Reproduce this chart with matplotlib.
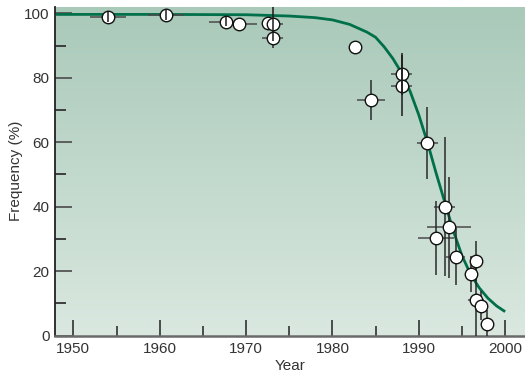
import numpy as np
import matplotlib
matplotlib.use("Agg")
from matplotlib import pyplot as plt
from matplotlib.colors import LinearSegmentedColormap

# observed frequencies with error bars
years = [1954.0, 1960.7, 1967.7, 1969.2, 1972.5, 1973.1, 1973.1, 1982.65, 1984.45,
         1988.0, 1988.0, 1991.0, 1992.0, 1993.0, 1993.5, 1994.3, 1996.1, 1996.65,
         1996.65, 1997.2, 1997.95]
freq = [98.8, 99.5, 97.5, 96.7, 97.1, 96.6, 92.3, 89.5, 73.1,
        81.2, 77.6, 59.9, 30.4, 40.0, 33.6, 24.5, 19.1, 23.1,
        11.0, 9.3, 3.6]
year_err = [2.1, 2.1, 2.0, 2.1, 0.0, 1.2, 1.2, 0.0, 1.6,
            1.2, 1.2, 1.25, 2.1, 1.25, 2.6, 1.1, 0.0, 0.0,
            0.95, 0.6, 0.0]
freq_err = [1.5, 1.5, 1.5, 0.0, 0.0, 5.3, 3.0, 0.0, 6.3,
            6.4, 9.4, 11.2, 11.5, 21.6, 15.7, 8.8, 5.5, 6.2,
            11.0, 4.5, 4.3]
# vertical bars that are drawn over the circle
bar_over = [True, True, True, False, False, True, False, False, False,
            True, True, False, False, False, False, False, False, False,
            False, False, False]

# fitted decline curve
curve_years = [1948, 1960, 1970, 1975, 1978, 1980, 1982, 1983, 1984, 1985, 1986, 1987,
               1988, 1989, 1990, 1991, 1992, 1993, 1994, 1995, 1996, 1997, 1998, 1999, 2000]
curve_freq = [99.7, 99.7, 99.6, 99.2, 98.7, 98.0, 96.6, 95.4, 94.2, 92.6, 89.6, 86.0,
              81.6, 75.8, 68.5, 60.0, 50.5, 41.5, 32.5, 24.8, 19.0, 14.8, 11.6, 9.2, 7.4]

plt.rcParams['font.family'] = ['Liberation Sans', 'DejaVu Sans']
text_col = '#333333'

fig = plt.figure(figsize=(5.25, 3.81), dpi=100)
ax = fig.add_axes([0.1048, 0.1194, 0.8952, 0.8622])
ax.set_xlim(1947.88, 2002.3)
ax.set_ylim(0, 102.0)

# green background fading towards the bottom
bg = LinearSegmentedColormap.from_list('bg', ['#dae8e0', '#a9c9b9'])
grad = np.linspace(0, 1, 256).reshape(-1, 1)
ax.imshow(grad, cmap=bg, origin='lower', aspect='auto', extent=[0, 1, 0, 1],
          transform=ax.transAxes, zorder=0)

ax.plot(curve_years, curve_freq, color='#00704a', lw=2.0, zorder=2, solid_capstyle='butt')

yrs = np.array(years)
fr = np.array(freq)
xe = np.array(year_err)
ye = np.array(freq_err)
over = np.array(bar_over)

ax.errorbar(yrs, fr, xerr=xe, fmt='none', ecolor='#4a4a4a', elinewidth=1.1, capsize=0, zorder=3)
ax.errorbar(yrs[~over], fr[~over], yerr=ye[~over], fmt='none', ecolor='#2a2a2a',
            elinewidth=1.1, capsize=0, zorder=3)
ax.plot(yrs, fr, 'o', ms=9, mfc='white', mec='#111111', mew=1.0, zorder=4)
ax.errorbar(yrs[over], fr[over], yerr=ye[over], fmt='none', ecolor='#1a1a1a',
            elinewidth=1.1, capsize=0, zorder=5)

for s in ['top', 'right']:
    ax.spines[s].set_visible(False)
ax.spines['left'].set_color('#222222')
ax.spines['left'].set_linewidth(1.3)
ax.spines['bottom'].set_color('#6a6a6a')
ax.spines['bottom'].set_linewidth(1.8)

ax.set_xticks(np.arange(1950, 2001, 10))
ax.set_xticks(np.arange(1955, 2001, 10), minor=True)
ax.set_yticks(np.arange(0, 101, 20))
ax.set_yticks(np.arange(10, 100, 20), minor=True)

ax.tick_params(axis='both', which='both', direction='in', labelsize=11, labelcolor=text_col)
ax.tick_params(axis='x', which='major', length=11.5, width=1.1, color='#222222', pad=5)
ax.tick_params(axis='x', which='minor', length=7, width=1.1, color='#222222')
ax.tick_params(axis='y', which='major', length=12, width=1.3, color='#555555', pad=4)
ax.tick_params(axis='y', which='minor', length=8, width=1.3, color='#333333')

ax.set_xlabel('Year', fontsize=11, color=text_col, labelpad=2)
ax.set_ylabel('Frequency (%)', fontsize=11, color=text_col, labelpad=1)

fig.savefig('out.png', dpi=100)
